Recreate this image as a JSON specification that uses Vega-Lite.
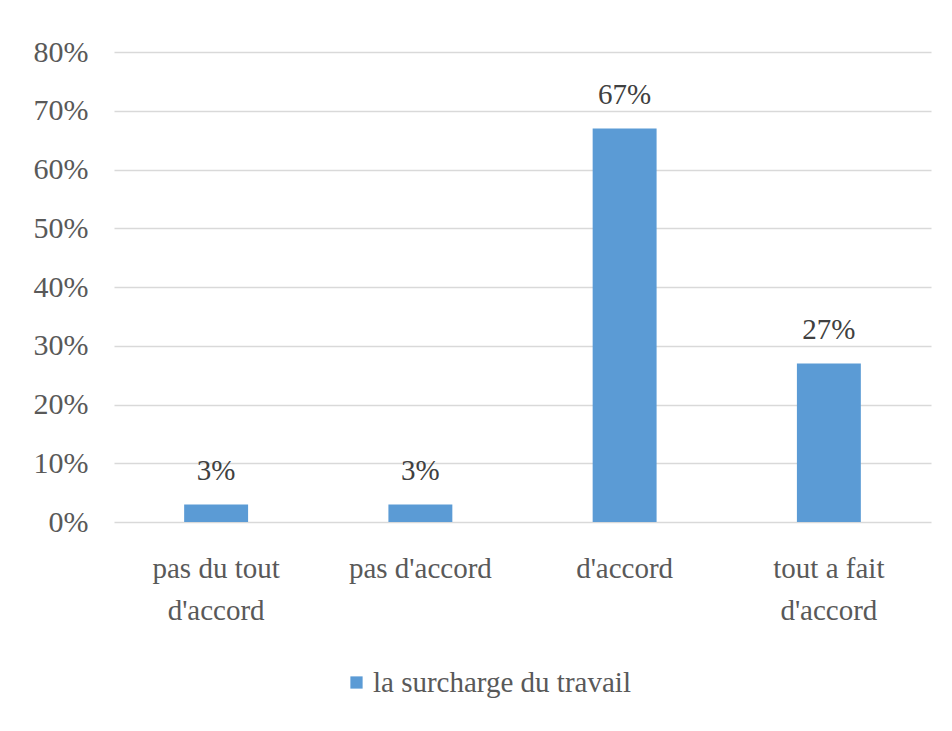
{
  "$schema": "https://vega.github.io/schema/vega-lite/v6.json",
  "autosize": {"type": "none"},
  "width": 817,
  "height": 470,
  "padding": {"left": 114, "top": 52, "right": 21, "bottom": 209},
  "background": "white",
  "config": {
    "view": {"stroke": null},
    "font": "Liberation Serif",
    "axis": {"labelFont": "Liberation Serif", "titleFont": "Liberation Serif"},
    "legend": {"labelFont": "Liberation Serif"}
  },
  "data": {
    "values": [
      {"categorie": "pas du tout d'accord", "valeur": 0.03, "serie": "la surcharge du travail"},
      {"categorie": "pas d'accord", "valeur": 0.03, "serie": "la surcharge du travail"},
      {"categorie": "d'accord", "valeur": 0.67, "serie": "la surcharge du travail"},
      {"categorie": "tout a fait d'accord", "valeur": 0.27, "serie": "la surcharge du travail"}
    ]
  },
  "encoding": {
    "x": {
      "field": "categorie",
      "type": "nominal",
      "sort": null,
      "scale": {"paddingInner": 0.687, "paddingOuter": 0.3435},
      "axis": {
        "title": null,
        "labelAngle": 0,
        "domain": false,
        "ticks": false,
        "labelFontSize": 29,
        "labelColor": "#595959",
        "labelPadding": 32,
        "labelLineHeight": 42,
        "labelLimit": 400,
        "labelExpr": "datum.value == \"pas du tout d'accord\" ? [\"pas du tout\", \"d'accord\"] : datum.value == \"tout a fait d'accord\" ? [\"tout a fait\", \"d'accord\"] : datum.value"
      }
    },
    "y": {
      "field": "valeur",
      "type": "quantitative",
      "scale": {"domain": [0, 0.8]},
      "axis": {
        "title": null,
        "format": ".0%",
        "values": [0, 0.1, 0.2, 0.3, 0.4, 0.5, 0.6, 0.7, 0.8],
        "domain": false,
        "ticks": false,
        "labelFontSize": 30,
        "labelColor": "#595959",
        "labelPadding": 26,
        "gridColor": "#d9d9d9",
        "gridWidth": 1.5
      }
    }
  },
  "layer": [
    {
      "mark": {"type": "bar"},
      "encoding": {
        "color": {
          "field": "serie",
          "type": "nominal",
          "scale": {"range": ["#5B9BD5"]},
          "legend": {
            "title": null,
            "orient": "none",
            "legendX": 228,
            "legendY": 616,
            "symbolType": "square",
            "symbolSize": 150,
            "symbolStrokeWidth": 0,
            "labelFontSize": 29,
            "labelColor": "#595959",
            "labelOffset": 2,
            "labelLimit": 500
          }
        }
      }
    },
    {
      "mark": {"type": "text", "baseline": "alphabetic", "dy": -24, "fontSize": 29, "color": "#404040"},
      "encoding": {
        "text": {"field": "valeur", "type": "quantitative", "format": ".0%"}
      }
    }
  ]
}
